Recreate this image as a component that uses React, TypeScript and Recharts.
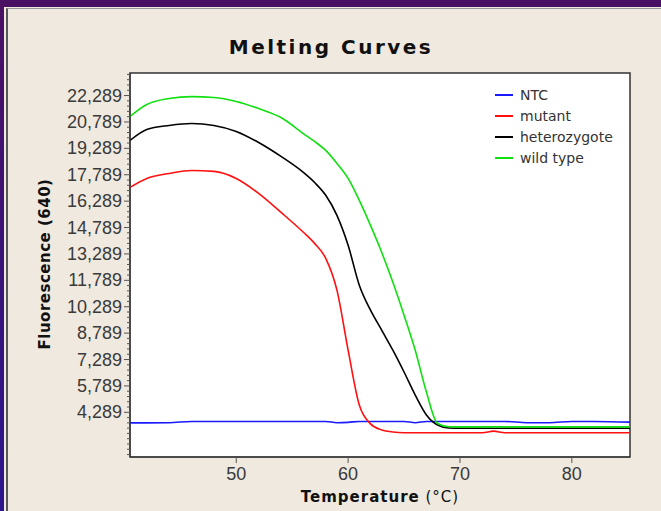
import { LineChart, Line, XAxis, YAxis, ReferenceArea, Legend } from 'recharts';

// temperature (°C) sample points
const temps = [40.5, 42, 44, 46, 48, 50, 52, 54, 56, 57, 58, 59, 60, 61, 62, 63, 64, 65, 66, 67, 68, 69, 70, 72, 73, 74, 76, 78, 80, 82, 85.2];

const ntc = [3690, 3690, 3700, 3770, 3770, 3770, 3770, 3770, 3770, 3770, 3770, 3700, 3720, 3770, 3770, 3770, 3770, 3770, 3700, 3770, 3770, 3770, 3770, 3770, 3770, 3770, 3700, 3700, 3770, 3770, 3730];
const mutant = [17070, 17580, 17860, 18030, 17980, 17580, 16730, 15650, 14520, 13890, 13040, 11230, 7820, 4700, 3630, 3290, 3170, 3130, 3130, 3130, 3130, 3130, 3130, 3130, 3220, 3130, 3130, 3130, 3130, 3130, 3130];
const heterozygote = [19740, 20360, 20590, 20700, 20590, 20250, 19620, 18830, 17920, 17350, 16620, 15480, 13780, 11510, 10090, 8960, 7820, 6580, 5270, 4140, 3570, 3400, 3380, 3380, 3380, 3380, 3380, 3380, 3380, 3380, 3380];
const wildType = [21100, 21780, 22120, 22230, 22180, 21950, 21550, 21040, 20130, 19680, 19170, 18430, 17580, 16330, 14910, 13380, 11680, 9810, 7820, 5440, 3650, 3470, 3460, 3460, 3460, 3460, 3460, 3460, 3460, 3460, 3460];

const xTicks = [50, 60, 70, 80];
const yMajorTicks = [4289, 5789, 7289, 8789, 10289, 11789, 13289, 14789, 16289, 17789, 19289, 20789, 22289];
const xDomain = [40.5, 85.2];
const yDomain = [1750, 23570];

const series = [
  { key: 'ntc', name: 'NTC', color: '#1a1aff' },
  { key: 'mutant', name: 'mutant', color: '#ff1010' },
  { key: 'het', name: 'heterozygote', color: '#000000' },
  { key: 'wild', name: 'wild type', color: '#10e010' },
];

const data = temps.map((t, i) => ({
  t,
  ntc: ntc[i],
  mutant: mutant[i],
  het: heterozygote[i],
  wild: wildType[i],
}));

// minor ticks every 300 between the labelled ones
const yTicks: number[] = [];
for (let v = yMajorTicks[0] - 2400; v <= yDomain[1]; v += 300) yTicks.push(v);

const YTick = (props: any) => {
  const { x, y, payload } = props;
  const major = yMajorTicks.includes(payload.value);
  return (
    <g>
      <line x1={x - (major ? 6 : 3)} x2={x} y1={y} y2={y} stroke="#555" strokeWidth={1} />
      {major && (
        <text x={x - 8} y={y} textAnchor="end" dominantBaseline="central" fill="#3a3a3a"
          style={{ fontFamily: 'Liberation Sans', fontSize: 18 }}>
          {payload.value.toLocaleString('en-US')}
        </text>
      )}
    </g>
  );
};

const LegendBox = () => (
  <div style={{ fontFamily: 'DejaVu Sans', fontSize: 14, color: '#333' }}>
    {series.map((s) => (
      <div key={s.key} style={{ display: 'flex', alignItems: 'center', height: 21 }}>
        <span style={{ display: 'inline-block', width: 18, height: 2, background: s.color, marginRight: 7 }} />
        <span>{s.name}</span>
      </div>
    ))}
  </div>
);

export default function App() {
  return (
    <div style={{ position: 'absolute', left: 0, top: 0, width: 661, height: 511, overflow: 'hidden',
      background: 'linear-gradient(to bottom, #4a1163, #2c168c)' }}>
      <div style={{ position: 'absolute', left: 4, top: 7, right: 0, bottom: 0, background: '#efe9df' }}>
        <div style={{ position: 'absolute', left: 2, top: 1, right: 0, bottom: 0,
          borderLeft: '2px solid #5a5a5a', borderTop: '1px solid #9a9a9a' }} />
      </div>
      <div style={{ position: 'absolute', left: 0, top: 0 }}>
        <LineChart width={661} height={511} data={data}
          margin={{ top: 73, right: 31, left: 60, bottom: 24 }}
          style={{ fontFamily: 'Liberation Sans' }}>
          <ReferenceArea x1={xDomain[0]} x2={xDomain[1]} y1={yDomain[0]} y2={yDomain[1]}
            fill="#ffffff" fillOpacity={1} stroke="#333" strokeWidth={1.5} />
          <XAxis dataKey="t" type="number" domain={xDomain} allowDataOverflow ticks={xTicks}
            height={30} tickSize={6} tickMargin={4} interval={0}
            axisLine={{ stroke: '#333' }} tickLine={{ stroke: '#555' }}
            tick={{ fill: '#3a3a3a', fontSize: 18, fontFamily: 'Liberation Sans' }} />
          <YAxis type="number" domain={yDomain} allowDataOverflow ticks={yTicks} width={70}
            interval={0} tickSize={0} tickMargin={0} tickLine={false}
            axisLine={{ stroke: '#333' }} tick={<YTick />} />
          <Legend content={<LegendBox />} layout="vertical" verticalAlign="middle" align="center"
            wrapperStyle={{ position: 'absolute', top: 84, left: 495, width: 130 }} />
          {series.map((s) => (
            <Line key={s.key} dataKey={s.key} name={s.name} type="monotone" stroke={s.color}
              strokeWidth={1.6} dot={false} isAnimationActive={false} />
          ))}
        </LineChart>
      </div>
      <div style={{ position: 'absolute', left: 331, top: 47, transform: 'translate(-50%, -50%)',
        fontFamily: 'DejaVu Sans', fontWeight: 'bold', fontSize: 20, letterSpacing: 2.5, color: '#111', whiteSpace: 'nowrap' }}>
        Melting Curves
      </div>
      <div style={{ position: 'absolute', left: 380, top: 497, transform: 'translate(-50%, -50%)',
        fontFamily: 'DejaVu Sans', fontSize: 15, letterSpacing: 1, color: '#111', whiteSpace: 'nowrap' }}>
        <span style={{ fontWeight: 'bold' }}>Temperature</span> (°C)
      </div>
      <div style={{ position: 'absolute', left: 45, top: 264, transform: 'translate(-50%, -50%) rotate(-90deg)',
        fontFamily: 'DejaVu Sans', fontWeight: 'bold', fontSize: 15, letterSpacing: 0.5, color: '#111', whiteSpace: 'nowrap' }}>
        Fluorescence (640)
      </div>
    </div>
  );
}
